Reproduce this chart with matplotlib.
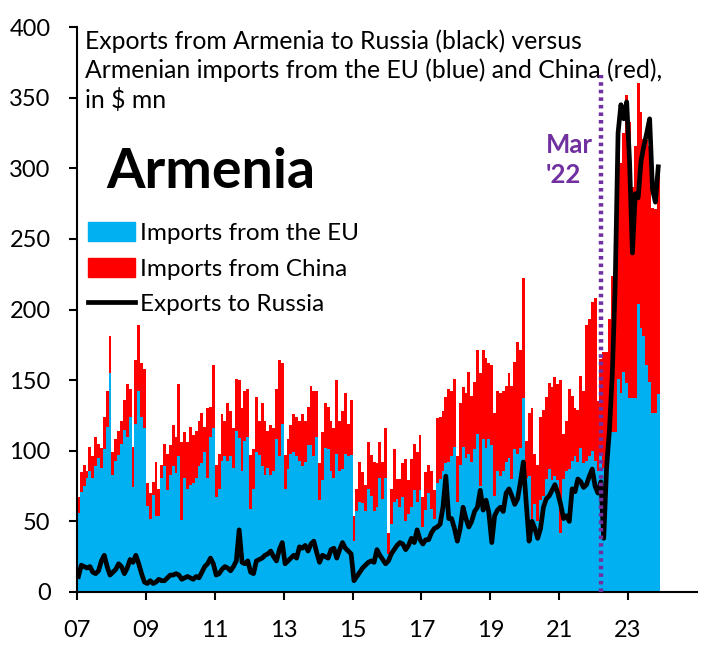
import numpy as np
import matplotlib.pyplot as plt
from matplotlib.patches import Patch
from matplotlib.lines import Line2D

plt.rcParams['font.family'] = ['Lato', 'DejaVu Sans']

# monthly, Jan 2007 .. Nov 2023, $ mn
START_YEAR = 2007
eu_imports = [
    56, 71, 75, 81, 86, 81, 89, 95, 88, 101, 117, 155,
    83, 93, 97, 105, 115, 110, 124, 74, 119, 142, 124, 116,
    61, 52, 69, 54, 54, 81, 89, 72, 83, 89, 84, 96,
    51, 81, 73, 76, 77, 81, 89, 91, 99, 81, 110, 116,
    67, 73, 93, 96, 93, 96, 88, 114, 109, 86, 107, 110,
    59, 73, 99, 97, 89, 83, 88, 83, 86, 108, 96, 119,
    73, 87, 98, 99, 96, 93, 89, 92, 104, 104, 96, 110,
    65, 79, 102, 101, 86, 81, 98, 86, 87, 98, 96, 97,
    36, 57, 64, 63, 57, 73, 68, 57, 60, 81, 66, 81,
    27, 48, 64, 66, 60, 67, 50, 55, 60, 72, 64, 72,
    46, 58, 70, 59, 52, 77, 80, 86, 91, 92, 96, 103,
    64, 90, 103, 95, 98, 92, 101, 112, 75, 108, 102, 108,
    104, 68, 86, 82, 86, 92, 95, 80, 101, 98, 102, 137,
    81, 82, 52, 62, 50, 65, 68, 80, 87, 79, 82, 79,
    42, 80, 86, 87, 93, 96, 92, 102, 91, 93, 96, 100,
    93, 86, 96, 88, 96, 106, 113, 113, 151, 141, 156, 148,
    137, 137, 137, 204, 187, 181, 161, 149, 127, 127, 140,
]
china_imports = [
    11, 14, 15, 5, 17, 15, 21, 10, 14, 23, 25, 26,
    16, 15, 17, 16, 21, 37, 20, 29, 45, 47, 38, 42,
    16, 18, 9, 38, 19, 9, 16, 26, 21, 29, 26, 51,
    55, 32, 33, 41, 34, 33, 32, 36, 18, 49, 21, 45,
    23, 25, 33, 25, 41, 32, 28, 37, 41, 44, 35, 34,
    38, 28, 39, 24, 45, 38, 26, 35, 30, 36, 68, 43,
    24, 21, 20, 27, 28, 28, 37, 29, 27, 42, 46, 32,
    26, 34, 32, 30, 35, 35, 52, 35, 41, 43, 23, 39,
    18, 16, 28, 22, 19, 33, 29, 35, 31, 25, 26, 35,
    15, 25, 37, 14, 20, 24, 44, 24, 34, 33, 35, 39,
    21, 27, 20, 27, 20, 46, 44, 42, 47, 52, 46, 48,
    32, 44, 42, 46, 58, 47, 48, 59, 80, 63, 64, 54,
    57, 59, 56, 59, 56, 54, 60, 66, 62, 79, 69, 85,
    26, 45, 78, 36, 40, 59, 61, 58, 61, 66, 70, 68,
    108, 32, 35, 57, 46, 34, 37, 51, 51, 96, 97, 105,
    115, 49, 69, 82, 74, 87, 111, 108, 167, 163, 169, 204,
    196, 150, 179, 156, 153, 140, 159, 167, 145, 144, 162,
]
exports_russia = [
    11, 19, 18, 17, 18, 14, 13, 15, 22, 26, 18, 12,
    14, 16, 20, 18, 13, 17, 23, 21, 26, 20, 13, 7,
    6, 8, 6, 7, 9, 8, 8, 10, 12, 12, 13, 12,
    9, 10, 11, 10, 9, 11, 10, 14, 18, 20, 24, 20,
    12, 13, 16, 18, 17, 15, 18, 22, 44, 21, 20, 22,
    14, 13, 22, 23, 24, 26, 27, 29, 25, 22, 30, 35,
    20, 22, 24, 26, 24, 32, 31, 33, 29, 34, 36, 28,
    21, 26, 25, 24, 30, 31, 24, 30, 35, 31, 29, 27,
    8, 11, 14, 17, 19, 21, 22, 21, 30, 26, 23, 20,
    22, 27, 30, 33, 35, 34, 30, 33, 38, 35, 44, 37,
    34, 37, 37, 42, 45, 46, 48, 60, 82, 52, 52, 45,
    36, 45, 60, 52, 46, 50, 57, 60, 72, 58, 65, 56,
    35, 54, 58, 60, 57, 70, 73, 68, 62, 66, 78, 92,
    63, 36, 50, 45, 38, 45, 60, 66, 68, 72, 76, 70,
    62, 52, 54, 50, 73, 71, 80, 78, 74, 76, 82, 87,
    75, 70, 78, 38, 88, 115, 155, 218, 325, 345, 335, 347,
    305, 240, 282, 279, 305, 316, 325, 335, 285, 276, 301,
]
tick_years = list(range(2007, 2024, 2))
tick_labels = [f'{y % 100:02d}' for y in tick_years]
MARKER_YEAR, MARKER_MONTH = 2022, 3

BLUE = '#00B0F0'
RED = '#FF0000'
PURPLE = '#7030A0'

eu = np.array(eu_imports, dtype=float)
cn = np.array(china_imports, dtype=float)
ru = np.array(exports_russia, dtype=float)
n = len(eu)
x = START_YEAR + np.arange(n) / 12.0
w = 1 / 12.0

fig = plt.figure(figsize=(7.03, 6.46), dpi=100)
ax = fig.add_axes([77 / 703, 1 - 592 / 646, 620 / 703, 565 / 646])

ax.bar(x, eu, width=w, align='edge', color=BLUE, linewidth=0, zorder=1)
ax.bar(x, cn, width=w, bottom=eu, align='edge', color=RED, linewidth=0, zorder=1)
ax.plot(x + w / 2, ru, color='black', lw=3.4, solid_joinstyle='round', zorder=3)

# Mar '22 marker
mx = MARKER_YEAR + (MARKER_MONTH - 0.5) / 12.0
ax.plot([mx, mx], [0, 366], color=PURPLE, lw=3.2, linestyle=(0, (0.8, 0.9)), zorder=4)
ax.text(mx - 1.6, 306, "Mar\n'22", color=PURPLE, fontsize=18.5, fontweight='bold',
        ha='left', va='center', linespacing=1.3)

ax.set_xlim(START_YEAR, 2025)
ax.set_ylim(0, 400)
ax.set_xticks(tick_years)
ax.set_xticklabels(tick_labels)
ax.set_yticks(range(0, 401, 50))
ax.tick_params(axis='both', labelsize=17, direction='out', length=6, width=1.5,
               colors='black')
ax.tick_params(axis='x', pad=14)
ax.tick_params(axis='y', pad=13)
for s in ('top', 'right'):
    ax.spines[s].set_visible(False)
for s in ('left', 'bottom'):
    ax.spines[s].set_linewidth(1.5)

ax.text(0.013, 0.995,
        'Exports from Armenia to Russia (black) versus\n'
        'Armenian imports from the EU (blue) and China (red),\n'
        'in $ mn',
        transform=ax.transAxes, ha='left', va='top', fontsize=17.8, linespacing=1.28)
ax.text(0.048, 0.743, 'Armenia', transform=ax.transAxes, ha='left', va='center',
        fontsize=40, fontweight='bold')

handles = [Patch(color=BLUE), Patch(color=RED), Line2D([], [], color='black', lw=3.4)]
labels = ['Imports from the EU', 'Imports from China', 'Exports to Russia']
ax.legend(handles, labels, loc='upper left', bbox_to_anchor=(0.017, 0.655),
          frameon=False, fontsize=17.5, handlelength=1.95, handleheight=0.85,
          handletextpad=0.22, labelspacing=0.56, borderpad=0, borderaxespad=0)

fig.savefig('out.png', dpi=100)
